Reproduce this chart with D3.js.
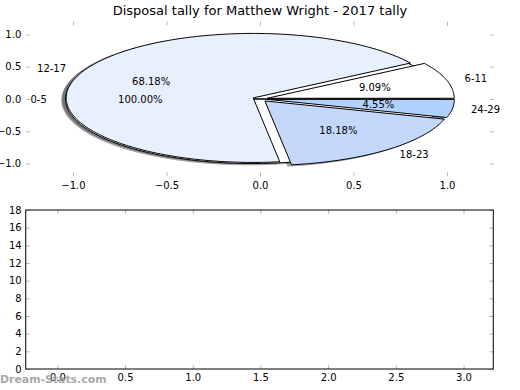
<!DOCTYPE html>
<html>
<head>
<meta charset="utf-8">
<script src="https://cdn.jsdelivr.net/npm/d3@7"></script>
<style>
    body { margin: 0; background: white; }
    svg { display: block; font-family: "DejaVu Sans", sans-serif; }
    .tick line { stroke: #b8b8b8; }
</style>
</head>
<body>
<div id="chart"></div>
<script>
// Disposal tally data
var ageGroups = ["0-5", "6-11", "12-17", "18-23", "24-29"];
var tally = [0, 2, 15, 4, 1];
var wedgeColors = ["#ffffff", "#ffffff", "#e9f0fd", "#c4d8fc", "#b2d2fe"];
var explode = [0.04, 0.04, 0.04, 0.04, 0.04];

var pieXTicks = [-1.0, -0.5, 0.0, 0.5, 1.0];
var pieYTicks = [-1.0, -0.5, 0.0, 0.5, 1.0];
var barXTicks = [0.0, 0.5, 1.0, 1.5, 2.0, 2.5, 3.0];
var barYTicks = [0, 2, 4, 6, 8, 10, 12, 14, 16, 18];

window.onload = function () {

    var w = 520;
    var h = 390;

    var svg = d3.select("#chart")
        .append("svg")
        .attr("width", w)
        .attr("height", h);

    // Title
    svg.append("text")
        .attr("x", 260)
        .attr("y", 14.5)
        .attr("text-anchor", "middle")
        .style("font-size", "13px")
        .text("Disposal tally for Matthew Wright - 2017 tally");

    // ---------- Pie axes ----------
    var x = d3.scaleLinear().domain([-1.25, 1.25]).range([26.25, 493.75]);
    var y = d3.scaleLinear().domain([-1.2, 1.2]).range([176.4, 21.6]);

    var total = d3.sum(tally);

    // build the wedges (a zero slice comes out as a full circle, 100%)
    var wedges = [];
    var start = 0;
    tally.forEach(function (v, i) {
        var span = v / total * 360;
        var t1 = start, t2 = start + span;
        var pct = v / total * 100;
        if (span === 0) { t2 = t1 + 360; pct = 100; }
        var mid = (t1 + t2) / 2 * Math.PI / 180;
        wedges.push({
            label: ageGroups[i],
            color: wedgeColors[i],
            t1: t1, t2: t2, mid: mid,
            pct: pct.toFixed(2) + "%",
            cx: explode[i] * Math.cos(mid),
            cy: explode[i] * Math.sin(mid)
        });
        start += span;
    });

    function wedgePath(d, ox, oy) {
        var pts = [[d.cx + ox, d.cy + oy]];
        var n = Math.max(2, Math.ceil(d.t2 - d.t1));
        for (var k = 0; k <= n; k++) {
            var a = (d.t1 + (d.t2 - d.t1) * k / n) * Math.PI / 180;
            pts.push([d.cx + ox + Math.cos(a), d.cy + oy + Math.sin(a)]);
        }
        return d3.line().x(p => x(p[0])).y(p => y(p[1]))(pts) + "Z";
    }

    function darker(c) {
        var col = d3.rgb(c);
        return d3.rgb(col.r * 0.3, col.g * 0.3, col.b * 0.3);
    }

    var pieG = svg.append("g");

    // shadows go below every wedge
    pieG.selectAll("path.shadow")
        .data(wedges)
        .enter()
        .append("path")
        .attr("class", "shadow")
        .attr("d", d => wedgePath(d, -0.02, -0.02))
        .attr("fill", d => darker(d.color))
        .attr("stroke", d => darker(d.color))
        .attr("stroke-width", 1)
        .attr("opacity", 0.5);

    pieG.selectAll("path.wedge")
        .data(wedges)
        .enter()
        .append("path")
        .attr("class", "wedge")
        .attr("d", d => wedgePath(d, 0, 0))
        .attr("fill", d => d.color)
        .attr("stroke", "black")
        .attr("stroke-width", 1)
        .attr("stroke-linejoin", "round");

    // slice labels
    pieG.selectAll("text.lab")
        .data(wedges)
        .enter()
        .append("text")
        .attr("class", "lab")
        .attr("x", d => x(d.cx + 1.1 * Math.cos(d.mid)))
        .attr("y", d => y(d.cy + 1.1 * Math.sin(d.mid)))
        .attr("dy", "0.35em")
        .attr("text-anchor", d => Math.cos(d.mid) > 0 ? "start" : "end")
        .style("font-size", "10px")
        .text(d => d.label);

    // percentages
    pieG.selectAll("text.pct")
        .data(wedges)
        .enter()
        .append("text")
        .attr("class", "pct")
        .attr("x", d => x(d.cx + 0.6 * Math.cos(d.mid)))
        .attr("y", d => y(d.cy + 0.6 * Math.sin(d.mid)))
        .attr("dy", "0.35em")
        .attr("text-anchor", "middle")
        .style("font-size", "10px")
        .text(d => d.pct);

    // pie ticks (no frame, inward gray ticks on every side)
    var fmt = d3.format(".1f");
    var gx = svg.append("g").attr("transform", "translate(0," + y(-1.2) + ")")
        .call(d3.axisBottom(x).tickValues(pieXTicks).tickFormat(fmt).tickSize(-4).tickPadding(6));
    var gy = svg.append("g").attr("transform", "translate(" + x(-1.25) + ",0)")
        .call(d3.axisLeft(y).tickValues(pieYTicks).tickFormat(fmt).tickSize(-4).tickPadding(5));
    var gt = svg.append("g").attr("transform", "translate(0," + y(1.2) + ")")
        .call(d3.axisTop(x).tickValues(pieXTicks).tickFormat("").tickSize(-4));
    var gr = svg.append("g").attr("transform", "translate(" + x(1.25) + ",0)")
        .call(d3.axisRight(y).tickValues(pieYTicks).tickFormat("").tickSize(-4));

    // ---------- Empty lower axes ----------
    var x2 = d3.scaleLinear().domain([-0.234, 3.22]).range([25.7, 493.3]);
    var y2 = d3.scaleLinear().domain([0, 18]).range([369, 210]);

    var b1 = svg.append("g").attr("transform", "translate(0,369)")
        .call(d3.axisBottom(x2).tickValues(barXTicks).tickFormat(fmt).tickSize(-4).tickPadding(5));
    var b2 = svg.append("g").attr("transform", "translate(25.7,0)")
        .call(d3.axisLeft(y2).tickValues(barYTicks).tickFormat(d3.format("d")).tickSize(-4).tickPadding(4));
    var b3 = svg.append("g").attr("transform", "translate(0,210)")
        .call(d3.axisTop(x2).tickValues(barXTicks).tickFormat("").tickSize(-4));
    var b4 = svg.append("g").attr("transform", "translate(493.3,0)")
        .call(d3.axisRight(y2).tickValues(barYTicks).tickFormat("").tickSize(-4));

    [gx, gy, gt, gr, b1, b2, b3, b4].forEach(g => {
        g.select(".domain").remove();
        g.selectAll("text").style("font-size", "10px").style("font-family", "DejaVu Sans").attr("fill", "black");
    });

    svg.append("rect")
        .attr("x", 25.7)
        .attr("y", 210)
        .attr("width", 493.3 - 25.7)
        .attr("height", 159)
        .attr("fill", "none")
        .attr("stroke", "black")
        .attr("stroke-width", 1);

    // watermark
    svg.append("text")
        .attr("x", 0)
        .attr("y", 383)
        .style("font-size", "10.9px")
        .style("font-weight", "bold")
        .attr("fill", "#a0a0a0")
        .attr("opacity", 0.9)
        .text("Dream-Stats.com");
};
</script>
</body>
</html>
